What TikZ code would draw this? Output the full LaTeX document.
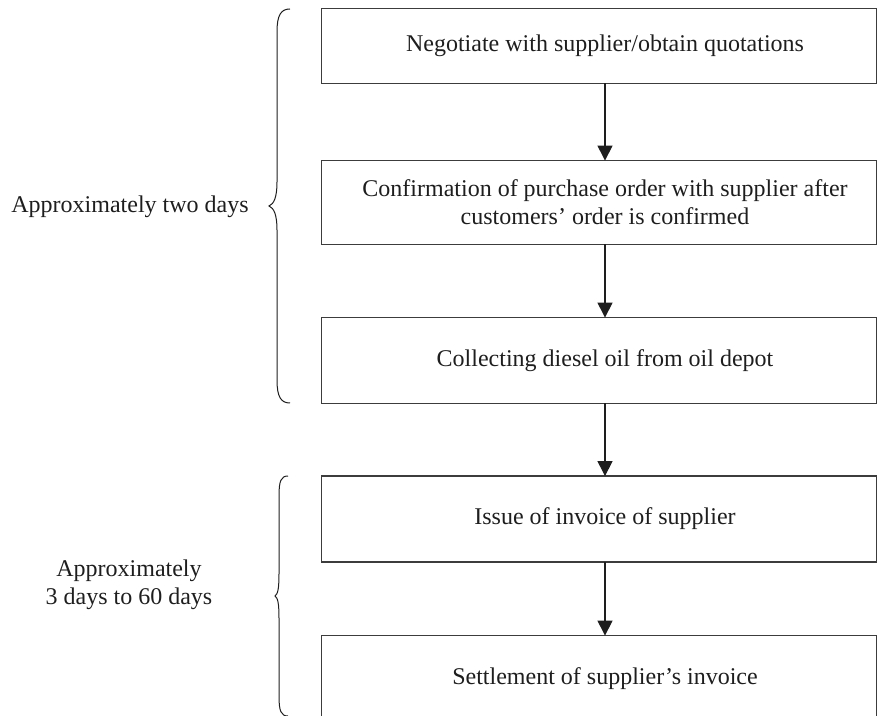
\documentclass[tikz,border=0pt]{standalone}
\usepackage{fontspec}
\setmainfont{Liberation Serif}
\usetikzlibrary{arrows.meta}
\definecolor{ink}{HTML}{1E1E1E}
\definecolor{boxgray}{HTML}{3C3C3C}
\begin{document}
\begin{tikzpicture}[x=0.5pt,y=-0.5pt,
  stepbox/.style={minimum width=283pt, minimum height=#1, inner sep=0pt, align=center,
    text=ink, font=\fontsize{12}{14}\selectfont},
  boxline/.style={draw=boxgray, line width=0.65pt},
  flow/.style={draw=ink, line width=0.55pt, -{Triangle[width=7.5pt,length=7.5pt]}},
  bracepath/.style={draw=ink, line width=0.5pt},
  lbl/.style={align=center, text=ink, inner sep=0pt, font=\fontsize{12}{14}\selectfont}]
\useasboundingbox (0,0) rectangle (877,716);

\node[stepbox=37pt] (b1) at (605,46) {Negotiate with supplier/obtain quotations};
\node[stepbox=41.5pt] (b2) at (605,202.5) {Confirmation of purchase order with supplier after\\customers’ order is confirmed};
\node[stepbox=42.5pt] (b3) at (605,360.5) {Collecting diesel oil from oil depot};
\node[stepbox=42.5pt] (b4) at (605,519) {Issue of invoice of supplier};
\node[stepbox=43pt] (b5) at (605,679) {Settlement of supplier’s invoice};

\foreach \b in {b1,b2,b3,b4,b5}{
  \draw[boxline] (\b.north west) rectangle ([xshift=-6pt]\b.south east);
}

\draw[flow] (b1) -- (b2);
\draw[flow] (b2) -- (b3);
\draw[flow] (b3) -- (b4);
\draw[flow] (b4) -- (b5);

% braces
\draw[bracepath] (290,9) .. controls (281,9) and (277,15) .. (277,32) -- (277,182)
  .. controls (277,197) and (274,204) .. (269,206)
  .. controls (274,208) and (277,215) .. (277,230) -- (277,380)
  .. controls (277,397) and (281,403) .. (290,403);
\draw[bracepath] (288,476) .. controls (281,476) and (279,481) .. (279,496) -- (279,573)
  .. controls (279,588) and (278,594) .. (275,596)
  .. controls (278,598) and (279,604) .. (279,619) -- (279,696)
  .. controls (279,711) and (281,716) .. (288,716);

\node[lbl] (t1) at (130,207) {Approximately two days};
\node[lbl] (t2) at (129,585) {Approximately\\3 days to 60 days};
\end{tikzpicture}
\end{document}
